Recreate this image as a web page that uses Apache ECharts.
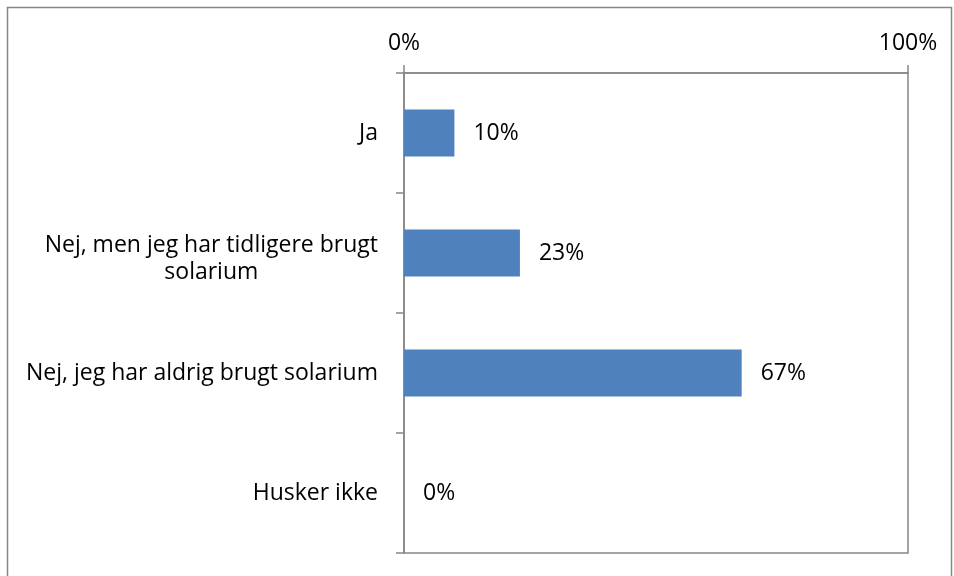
<!DOCTYPE html>
<html>
<head>
<meta charset="utf-8">
<script src="https://cdn.jsdelivr.net/npm/echarts@6/dist/echarts.min.js"></script>
<style>
  html, body { margin: 0; padding: 0; background: #fff; }
  #chart { width: 954px; height: 576px; }
</style>
</head>
<body>
<div id="chart"></div>
<script>
  // svar kategorier (top til bund)
  const categories = [
    'Ja',
    'Nej, men jeg har tidligere brugt\nsolarium',
    'Nej, jeg har aldrig brugt solarium',
    'Husker ikke'
  ]
  const values = [10, 23, 67, 0]
  const axisMin = 0
  const axisMax = 100

  const lineColor = '#868686'
  const font = 'Open Sans'
  const fs = 23

  const chart = echarts.init(document.getElementById('chart'))

  const option = {
    backgroundColor: '#fff',
    animation: false,
    textStyle: { fontFamily: font },
    graphic: [
      {
        type: 'rect',
        shape: { x: 7.5, y: 7.5, width: 944, height: 580 },
        style: { fill: 'none', stroke: lineColor, lineWidth: 1.5 },
        silent: true
      }
    ],
    grid: {
      left: 404,
      right: 46,
      top: 73,
      bottom: 23,
      show: true,
      borderColor: lineColor,
      borderWidth: 1.5,
      backgroundColor: 'transparent'
    },
    xAxis: {
      type: 'value',
      position: 'top',
      min: axisMin,
      max: axisMax,
      interval: 100,
      axisLine: { show: true, lineStyle: { color: lineColor, width: 1.5 } },
      axisTick: { show: true, length: 8, lineStyle: { color: lineColor, width: 1.5 } },
      splitLine: { show: false },
      axisLabel: {
        formatter: '{value}%',
        color: '#000',
        fontSize: fs,
        fontFamily: font,
        margin: 18
      }
    },
    yAxis: {
      type: 'category',
      inverse: true,
      data: categories,
      axisLine: { show: true, lineStyle: { color: lineColor, width: 1.5 } },
      axisTick: { show: true, length: 8, lineStyle: { color: lineColor, width: 1.5 } },
      axisLabel: {
        color: '#000',
        fontSize: fs,
        fontFamily: font,
        margin: 26,
        lineHeight: 30,
        // første linje lidt lavere, som i Excel-udgaven
        formatter: v => {
          const lines = v.split('\n')
          if (lines.length === 1) return '{c|' + v + '}'
          return lines.map((l, i) => (i === 0 ? '{f|' : '{c|') + l + '}').join('\n')
        },
        rich: {
          c: { align: 'center', fontSize: fs, fontFamily: font, color: '#000', lineHeight: 30 },
          f: { align: 'center', fontSize: fs, fontFamily: font, color: '#000', lineHeight: 38, verticalAlign: 'bottom' }
        }
      }
    },
    series: [
      {
        type: 'bar',
        data: values,
        barWidth: 47,
        itemStyle: { color: '#4f81bd' },
        label: {
          show: true,
          position: 'right',
          distance: 19,
          formatter: p => p.value + '%',
          color: '#000',
          fontSize: fs,
          fontFamily: font
        }
      }
    ]
  }

  chart.setOption(option)
</script>
</body>
</html>
